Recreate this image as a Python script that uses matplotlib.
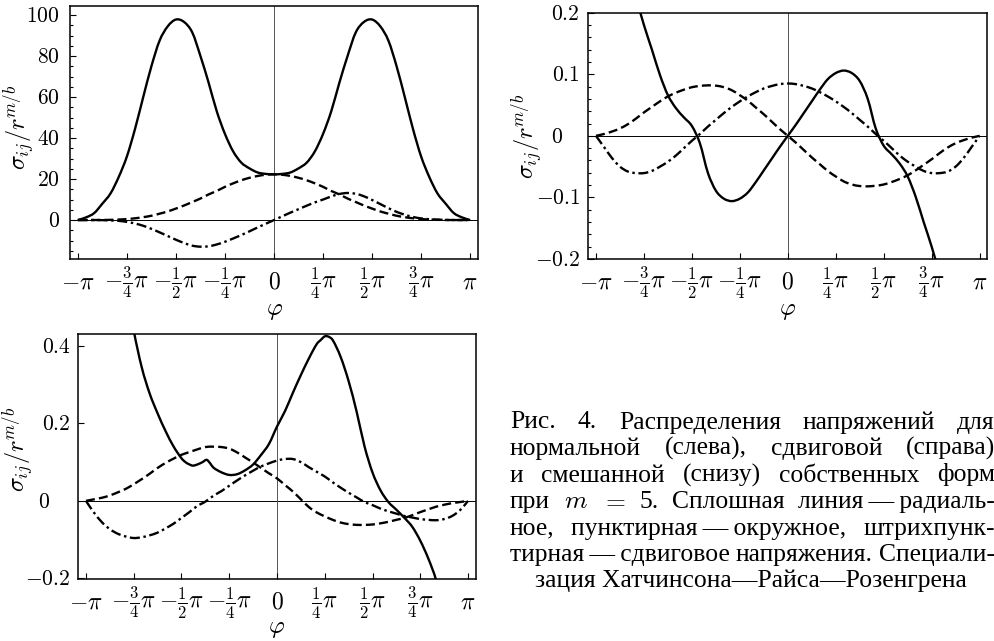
import numpy as np
import matplotlib
matplotlib.use("Agg")
import matplotlib.pyplot as plt
from matplotlib.ticker import MultipleLocator, NullLocator
import matplotlib.transforms as mtransforms
from matplotlib.path import Path
from matplotlib.patches import PathPatch

plt.rcParams['mathtext.fontset'] = 'cm'
plt.rcParams['font.family'] = ['Liberation Serif', 'DejaVu Serif']
plt.rcParams['lines.scale_dashes'] = False

# ---------------- data (phi in units of pi) ----------------
phi_grid = np.linspace(-1.0, 1.0, 49)  # sample positions, step pi/24

# Panel 1 (normal form)
p1_radial = [0, 1.3, 3.4, 8, 13, 21, 31, 44.5, 60, 75, 87.5, 94.5, 97.8, 96.6, 91.5, 80, 67, 53, 42, 33.5, 28, 25.2, 23.2, 22.5,
             22.3,
             22.5, 23.2, 25.2, 28, 33.5, 42, 53, 67, 80, 91.5, 96.6, 97.8, 94.5, 87.5, 75, 60, 44.5, 31, 21, 13, 8, 3.4, 1.3, 0]
p1_hoop = [0, 0, 0.01, 0.03, 0.10, 0.24, 0.48, 0.85, 1.4, 2.1, 3.1, 4.2, 5.6, 7.1, 8.8, 10.5, 12.5, 14.2, 16.2, 17.9, 19.4, 20.6, 21.5, 22.1,
           22.3,
           22.1, 21.5, 20.6, 19.4, 17.9, 16.2, 14.2, 12.5, 10.5, 8.8, 7.1, 5.6, 4.2, 3.1, 2.1, 1.4, 0.85, 0.48, 0.24, 0.10, 0.03, 0.01, 0, 0]
p1_shear = [0, 0, 0, -0.05, -0.2, -0.4, -0.9, -1.7, -2.8, -4.3, -6.0, -7.8, -9.6, -11.2, -12.5, -13.0, -12.8, -11.9, -10.6, -9.0, -7.3, -5.5, -3.6, -1.8,
            0,
            1.8, 3.6, 5.3, 7.0, 8.6, 10.0, 11.5, 12.7, 13.2, 12.8, 11.6, 9.8, 7.8, 5.8, 4.0, 2.6, 1.5, 0.8, 0.4, 0.2, 0.05, 0, 0, 0]

# Panel 2 (shear form)
p2_radial = [0.60, 0.50, 0.41, 0.33, 0.27, 0.225, 0.18, 0.14, 0.099, 0.066, 0.045, 0.030, 0.016, -0.012, -0.060, -0.089, -0.102, -0.106, -0.102, -0.092, -0.075, -0.056, -0.037, -0.018,
             0,
             0.018, 0.037, 0.056, 0.075, 0.092, 0.102, 0.106, 0.102, 0.089, 0.060, 0.012, -0.016, -0.030, -0.045, -0.066, -0.099, -0.14, -0.18, -0.225, -0.27, -0.33, -0.41, -0.50, -0.60]
p2_hoop = [0, 0.003, 0.007, 0.012, 0.019, 0.028, 0.038, 0.047, 0.056, 0.064, 0.070, 0.075, 0.079, 0.081, 0.082, 0.0815, 0.079, 0.074, 0.066, 0.057, 0.046, 0.035, 0.023, 0.011,
           0,
           -0.011, -0.023, -0.035, -0.046, -0.057, -0.066, -0.074, -0.079, -0.0815, -0.082, -0.081, -0.079, -0.075, -0.070, -0.064, -0.056, -0.047, -0.038, -0.028, -0.019, -0.012, -0.007, -0.003, 0]
p2_shear = [0, -0.018, -0.036, -0.050, -0.058, -0.0605, -0.0605, -0.057, -0.050, -0.042, -0.032, -0.020, -0.008, 0.003, 0.015, 0.026, 0.037, 0.047, 0.056, 0.064, 0.071, 0.077, 0.081, 0.084,
            0.085,
            0.084, 0.081, 0.077, 0.071, 0.064, 0.056, 0.047, 0.037, 0.026, 0.015, 0.003, -0.008, -0.020, -0.032, -0.042, -0.050, -0.057, -0.0605, -0.0605, -0.058, -0.050, -0.036, -0.018, 0]

# Panel 3 (mixed form)
p3_radial_phi = [-1.0, -0.958, -0.917, -0.875, -0.833, -0.792, -0.75, -0.708, -0.667, -0.625,
                 -0.583, -0.542, -0.5, -0.479, -0.458, -0.44, -0.417, -0.39, -0.368, -0.35,
                 -0.333, -0.292, -0.25, -0.208, -0.167, -0.125, -0.083, -0.042, 0.0, 0.042,
                 0.083, 0.125, 0.167, 0.208, 0.23, 0.25, 0.27, 0.292, 0.333, 0.375,
                 0.417, 0.458, 0.5, 0.542, 0.583, 0.625, 0.667, 0.708, 0.75, 0.792,
                 0.833, 0.875, 0.917, 0.958, 1.0]
p3_radial = [1.40, 1.20, 1.00, 0.85, 0.70, 0.56, 0.44, 0.345, 0.278, 0.226,
             0.180, 0.141, 0.110, 0.100, 0.094, 0.091, 0.094, 0.100, 0.106, 0.097,
             0.086, 0.074, 0.067, 0.069, 0.079, 0.094, 0.119, 0.147, 0.192, 0.232,
             0.279, 0.325, 0.368, 0.405, 0.416, 0.425, 0.424, 0.415, 0.372, 0.309,
             0.230, 0.141, 0.073, 0.027, -0.003, -0.023, -0.044, -0.067, -0.103, -0.149,
             -0.205, -0.29, -0.39, -0.50, -0.62]
p3_hoop = [0, 0.004, 0.008, 0.014, 0.022, 0.031, 0.043, 0.056, 0.070, 0.085, 0.098, 0.109, 0.119, 0.126, 0.133, 0.139, 0.140, 0.139, 0.135, 0.125, 0.112, 0.099, 0.085, 0.071,
           0.058,
           0.041, 0.024, 0.004, -0.016, -0.030, -0.040, -0.049, -0.056, -0.060, -0.062, -0.062, -0.061, -0.058, -0.054, -0.049, -0.044, -0.037, -0.029, -0.022, -0.015, -0.010, -0.006, -0.003, 0]
p3_shear = [0, -0.030, -0.055, -0.073, -0.085, -0.092, -0.096, -0.094, -0.089, -0.082, -0.071, -0.059, -0.044, -0.029, -0.013, -0.002, 0.013, 0.025, 0.039, 0.053, 0.066, 0.078, 0.089, 0.097,
            0.104,
            0.108, 0.108, 0.100, 0.087, 0.075, 0.063, 0.048, 0.034, 0.021, 0.009, -0.003, -0.011, -0.020, -0.027, -0.033, -0.039, -0.043, -0.047, -0.049, -0.050, -0.047, -0.039, -0.024, 0]

xtick_pos = [-1, -0.75, -0.5, -0.25, 0, 0.25, 0.5, 0.75, 1]
xtick_labels = [r'$-\pi$', r'$-\frac{3}{4}\pi$', r'$-\frac{1}{2}\pi$', r'$-\frac{1}{4}\pi$', r'$0$',
                r'$\frac{1}{4}\pi$', r'$\frac{1}{2}\pi$', r'$\frac{3}{4}\pi$', r'$\pi$']

p1_yticks = [0, 20, 40, 60, 80, 100]
p1_ylabels = [r'$0$', r'$20$', r'$40$', r'$60$', r'$80$', r'$100$']
p2_yticks = [-0.2, -0.1, 0, 0.1, 0.2]
p2_ylabels = [r'$-0.2$', r'$-0.1$', r'$0$', r'$0.1$', r'$0.2$']
p3_yticks = [-0.2, 0, 0.2, 0.4]
p3_ylabels = [r'$-0.2$', r'$0$', r'$0.2$', r'$0.4$']

caption_lines = [
    ["Рис.", "4.", "Распределения", "напряжений", "для"],
    ["нормальной", "(слева),", "сдвиговой", "(справа)"],
    ["и", "смешанной", "(снизу)", "собственных", "форм"],
    ["при", "$m$", "$=$", "5.", "Сплошная", "линия\u2009—\u2009радиаль-"],
    ["ное,", "пунктирная\u2009—\u2009окружное,", "штрихпунк-"],
    ["тирная\u2009—\u2009сдвиговое", "напряжения.", "Специали-"],
]
caption_last = "зация Хатчинсона—Райса—Розенгрена"

# ---------------- figure ----------------
W, H = 995, 641
fig = plt.figure(figsize=(W / 100, H / 100), dpi=100)


def rect(left, top, right, bottom):
    return [left / W, 1 - bottom / H, (right - left) / W, (bottom - top) / H]


ax1 = fig.add_axes(rect(70, 6, 478, 259))
ax2 = fig.add_axes(rect(588.3, 12.7, 987.3, 259))
ax3 = fig.add_axes(rect(78.3, 334, 475.7, 579))

LW = 1.7
DASH = (0, (6.5, 3.0))
DASHDOT = (0, (7.2, 2.6, 1.8, 2.6))


def smooth_curve(ax, x, y, ls):
    """Draw a smooth (cubic Hermite / Bezier) curve through the read points."""
    x = np.asarray(x, float)
    y = np.asarray(y, float)
    n = len(x)
    m = np.empty(n)
    m[1:-1] = (y[2:] - y[:-2]) / (x[2:] - x[:-2])
    m[0] = (y[1] - y[0]) / (x[1] - x[0])
    m[-1] = (y[-1] - y[-2]) / (x[-1] - x[-2])
    verts = [(x[0], y[0])]
    codes = [Path.MOVETO]
    for i in range(n - 1):
        dx = x[i + 1] - x[i]
        verts += [(x[i] + dx / 3, y[i] + m[i] * dx / 3),
                  (x[i + 1] - dx / 3, y[i + 1] - m[i + 1] * dx / 3),
                  (x[i + 1], y[i + 1])]
        codes += [Path.CURVE4] * 3
    patch = PathPatch(Path(verts, codes), fill=False, edgecolor='black', lw=LW,
                      linestyle=ls, capstyle='butt', joinstyle='round', zorder=3)
    ax.add_patch(patch)


def draw_panel(ax, radial, hoop, shear, ylim, yticks, ylabels, yminor, ypad,
               lab_pos, radial_phi=None, zero_shift=None):
    ax.axhline(0, color='black', lw=0.7, zorder=1)
    ax.axvline(0, color='#555555', lw=0.7, zorder=1)
    rp = phi_grid if radial_phi is None else np.asarray(radial_phi)
    smooth_curve(ax, np.pi * rp, radial, '-')
    smooth_curve(ax, np.pi * phi_grid, hoop, DASH)
    smooth_curve(ax, np.pi * phi_grid, shear, DASHDOT)
    ax.set_xlim(-1.04 * np.pi, 1.04 * np.pi)
    ax.set_ylim(*ylim)
    ax.set_xticks([np.pi * v for v in xtick_pos])
    ax.set_xticklabels(xtick_labels)
    ax.set_yticks(yticks)
    ax.set_yticklabels(ylabels)
    if yminor:
        ax.yaxis.set_minor_locator(MultipleLocator(yminor))
    else:
        ax.yaxis.set_minor_locator(NullLocator())
    ax.xaxis.set_minor_locator(NullLocator())
    ax.tick_params(axis='both', which='both', direction='in', top=False, right=False,
                   width=0.8, color='black')
    ax.tick_params(axis='x', which='major', labelsize=17, length=4.5, pad=17.5)
    ax.tick_params(axis='y', which='major', labelsize=15.5, length=4.5, pad=ypad)
    ax.tick_params(axis='y', which='minor', length=2.5)
    for t in ax.xaxis.get_major_ticks():
        t.label1.set_va('center')
    for sp in ax.spines.values():
        sp.set_linewidth(1.1)
        sp.set_color('black')
    ax.set_xlabel(r'$\varphi$', fontsize=17.5)
    ax.xaxis.set_label_coords(0.5, lab_pos[2])
    ax.xaxis.label.set_va('center')
    ax.set_ylabel(r'$\sigma_{ij}/r^{m/b}$', fontsize=17.5)
    ax.yaxis.set_label_coords(lab_pos[0], lab_pos[1])
    ax.yaxis.label.set_va('center')
    if zero_shift is not None:
        idx = list(yticks).index(0)
        lab = ax.yaxis.get_major_ticks()[idx].label1
        lab.set_transform(lab.get_transform() +
                          mtransforms.ScaledTranslation(-zero_shift / 100, 0, fig.dpi_scale_trans))


draw_panel(ax1, p1_radial, p1_hoop, p1_shear, (-19.0, 104.4), p1_yticks, p1_ylabels, 5, 7.2,
           (-0.125, 0.52, -0.208))
draw_panel(ax2, p2_radial, p2_hoop, p2_shear, (-0.2, 0.2), p2_yticks, p2_ylabels, 0.02, 6.0,
           (-0.152, 0.50, -0.214), zero_shift=16.5)
draw_panel(ax3, p3_radial, p3_hoop, p3_shear, (-0.2018, 0.431), p3_yticks, p3_ylabels, None, 5.5,
           (-0.150, 0.53, -0.205), radial_phi=p3_radial_phi, zero_shift=21)

# ---------------- caption (justified) ----------------
fig.canvas.draw()
renderer = fig.canvas.get_renderer()
cap_family = ['Liberation Serif', 'DejaVu Serif']

probe = fig.text(0, 0, caption_last, fontsize=10, family=cap_family)
w10 = probe.get_window_extent(renderer=renderer).width
probe.remove()
cap_size = 10 * 434.3 / w10

L, R = 510.0, 995.0
base0, step = 428.5, 26.5
for i, words in enumerate(caption_lines):
    yb = 1 - (base0 + step * i) / H
    texts = [fig.text(0, yb, w, fontsize=cap_size, family=cap_family, va='baseline', ha='left')
             for w in words]
    widths = [t.get_window_extent(renderer=renderer).width for t in texts]
    gap = (R - L - sum(widths)) / (len(words) - 1)
    x = L
    for t, w in zip(texts, widths):
        t.set_x(x / W)
        x += w + gap

fig.text(750.5 / W, 1 - (base0 + step * 6) / H, caption_last, fontsize=cap_size,
         family=cap_family, va='baseline', ha='center')

fig.savefig('out.png', dpi=100)
